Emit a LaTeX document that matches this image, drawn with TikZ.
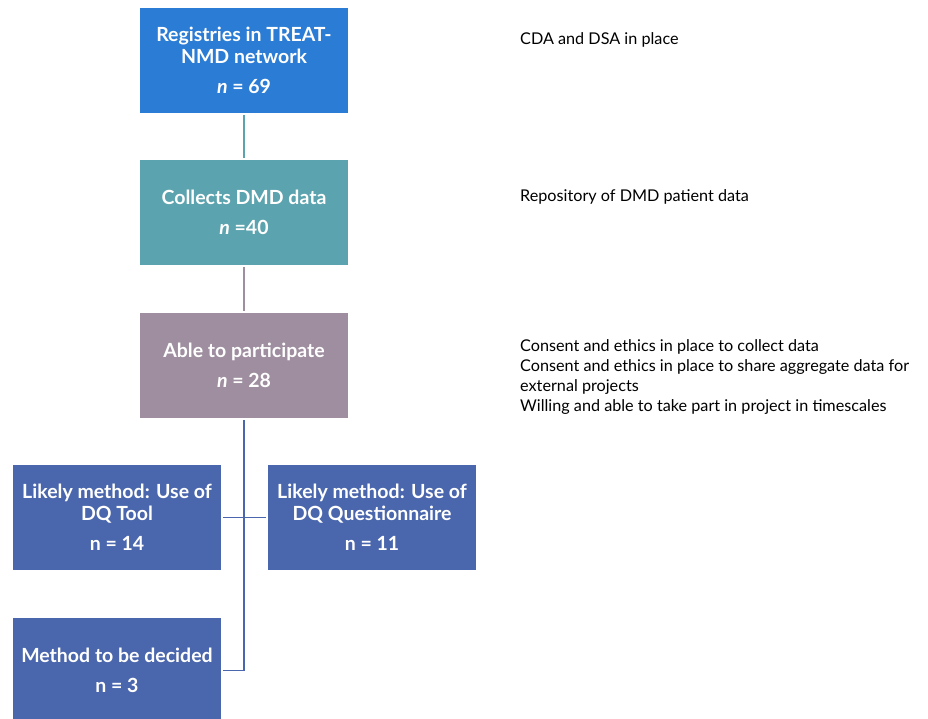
\documentclass[tikz,border=0pt]{standalone}
\usepackage{fontspec}
\setmainfont{Lato}
\usepackage{tikz}
\usetikzlibrary{positioning}

\definecolor{regblue}{RGB}{42,124,213}
\definecolor{dmdteal}{RGB}{91,163,174}
\definecolor{partmauve}{RGB}{158,142,159}
\definecolor{methnavy}{RGB}{74,102,172}

\begin{document}
\begin{tikzpicture}[x=1pt, y=-1pt,
        box/.style={minimum width=208pt, minimum height=105pt, inner sep=2pt,
            text=white, align=center, font=\fontsize{19.5}{22}\selectfont\bfseries},
        note/.style={anchor=west, align=left, inner sep=0pt,
            font=\fontsize{16.2}{20}\selectfont},
        link/.style={line width=1.8pt, shorten <=2pt, shorten >=2pt}]
            \useasboundingbox (0,0) rectangle (928,718);

            % main column
            \node[box, fill=regblue] (reg) at (244,60) {Registries in TREAT-\\NMD network\\[8pt]\textit{n} = 69};
            \node[box, fill=dmdteal] (dmd) at (244,212.5) {Collects DMD data\\[8pt]\textit{n} =40};
            \node[box, fill=partmauve] (part) at (244,365.5) {Able to participate\\[8pt]\textit{n} = 28};

            % methods
            \node[box, fill=methnavy] (tool) at (117,517.5) {Likely method: Use of\\DQ Tool\\[8pt]n = 14};
            \node[box, fill=methnavy] (quest) at (372,517.5) {Likely method: Use of\\DQ Questionnaire\\[8pt]n = 11};
            \node[box, fill=methnavy] (tbd) at (117,670.5) {Method to be decided\\[8pt]n = 3};

            % connectors
            \draw[link, dmdteal] (reg) -- (dmd);
            \draw[link, partmauve] (dmd) -- (part);
            \coordinate (corner) at (part.south |- tbd.east);
            \draw[link, methnavy, shorten >=0pt] (part) -- (corner);
            \draw[link, methnavy, shorten <=0pt] (corner) -- (tbd.east);
            \draw[link, methnavy] (tool.east) -- (quest.west);

            % criteria
            \node[note] (cda) at (520,40) {CDA and DSA in place};
            \node[note] (repo) at (520,197) {Repository of DMD patient data};
            \node[note] (consent) at (520,377.5) {Consent and ethics in place to collect data\\
                Consent and ethics in place to share aggregate data for\\
                external projects\\
                Willing and able to take part in project in timescales};
\end{tikzpicture}
\end{document}
